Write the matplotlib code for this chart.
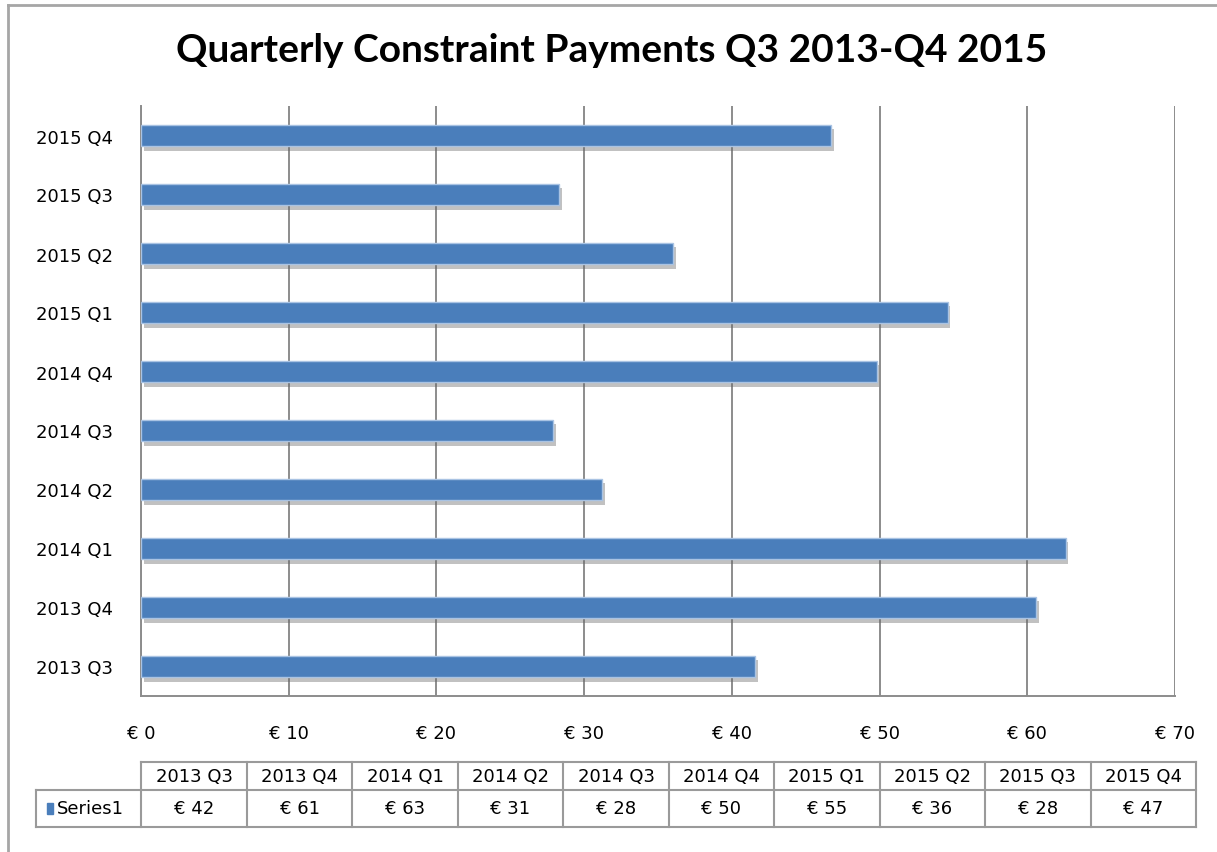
import matplotlib.pyplot as plt
import matplotlib.patheffects as pe
from matplotlib.lines import Line2D
from matplotlib.patches import Rectangle

# Data
quarters = ['2013 Q3', '2013 Q4', '2014 Q1', '2014 Q2', '2014 Q3',
            '2014 Q4', '2015 Q1', '2015 Q2', '2015 Q3', '2015 Q4']
payments = [41.6, 60.6, 62.6, 31.2, 27.9, 49.8, 54.6, 36.0, 28.3, 46.7]
series_name = 'Series1'
x_ticks = [0, 10, 20, 30, 40, 50, 60, 70]

W, H = 1217, 853
bar_color = '#4a7ebb'
grid_color = '#8c8c8c'
txt_font = ['DejaVu Sans']
fs = 13

fig = plt.figure(figsize=(W / 100, H / 100), dpi=100)
fig.patch.set_facecolor('white')

# outer chart border (runs off the right/bottom edge)
fig.add_artist(Line2D([8 / W, 8 / W], [0, 1 - 6 / H], color='#a6a6a6', lw=2, transform=fig.transFigure))
fig.add_artist(Line2D([8 / W, 1], [1 - 6 / H, 1 - 6 / H], color='#a6a6a6', lw=2, transform=fig.transFigure))

fig.text(612 / W, 1 - 50 / H, 'Quarterly Constraint Payments Q3 2013-Q4 2015',
         ha='center', va='center', fontsize=28, fontweight='bold', family=['Lato', 'DejaVu Sans'])

# Bar plot area
ax = fig.add_axes([141 / W, (H - 697) / H, (1175 - 141) / W, (697 - 107) / H])
ypos = list(range(len(quarters)))
bars = ax.barh(ypos, payments, height=0.37, color=bar_color, edgecolor='#a9c3e3', linewidth=1, zorder=3)
for b in bars:
    b.set_path_effects([pe.SimplePatchShadow(offset=(2, -3), shadow_rgbFace='#666666', alpha=0.4), pe.Normal()])

ax.set_xlim(0, 70)
ax.set_ylim(-0.5, len(quarters) - 0.5)
ax.set_xticks(x_ticks)
ax.set_xticklabels([f'€ {t}' for t in x_ticks], family=txt_font, fontsize=fs)
ax.set_yticks(ypos)
ax.set_yticklabels(quarters, family=txt_font, fontsize=fs)
ax.tick_params(axis='x', length=0, pad=20)
ax.tick_params(axis='y', length=0, pad=20)
ax.grid(axis='x', color=grid_color, lw=1.4, zorder=0)
for s in ['top', 'right']:
    ax.spines[s].set_visible(False)
for s in ['left', 'bottom']:
    ax.spines[s].set_color(grid_color)
    ax.spines[s].set_linewidth(1.4)

# Data table under the chart
tab = fig.add_axes([36 / W, (H - 828) / H, (1196 - 36) / W, (828 - 763) / H])
tab.set_xlim(-1, len(quarters))
tab.set_ylim(0, 1)
tab.axis('off')
hsplit = 37 / 65
lc = '#9a9a9a'
n = len(quarters)
tab.plot([0, n], [1, 1], color=lc, lw=1.5, clip_on=False)
tab.plot([-1, n], [hsplit, hsplit], color=lc, lw=1.5, clip_on=False)
tab.plot([-1, n], [0, 0], color=lc, lw=1.5, clip_on=False)
tab.plot([-1, -1], [0, hsplit], color=lc, lw=1.5, clip_on=False)
for i in range(n + 1):
    tab.plot([i, i], [0, 1], color=lc, lw=1.5, clip_on=False)
for i, (q, v) in enumerate(zip(quarters, payments)):
    tab.text(i + 0.5, (1 + hsplit) / 2, q, ha='center', va='center', family=txt_font, fontsize=fs)
    tab.text(i + 0.5, hsplit / 2, f'€ {v:.0f}', ha='center', va='center', family=txt_font, fontsize=fs)
tab.add_patch(Rectangle((-0.9, hsplit / 2 - 0.09), 0.065, 0.18, color=bar_color, clip_on=False))
tab.text(-0.8, hsplit / 2, series_name, ha='left', va='center', family=txt_font, fontsize=fs)

fig.savefig('out.png', dpi=100)
